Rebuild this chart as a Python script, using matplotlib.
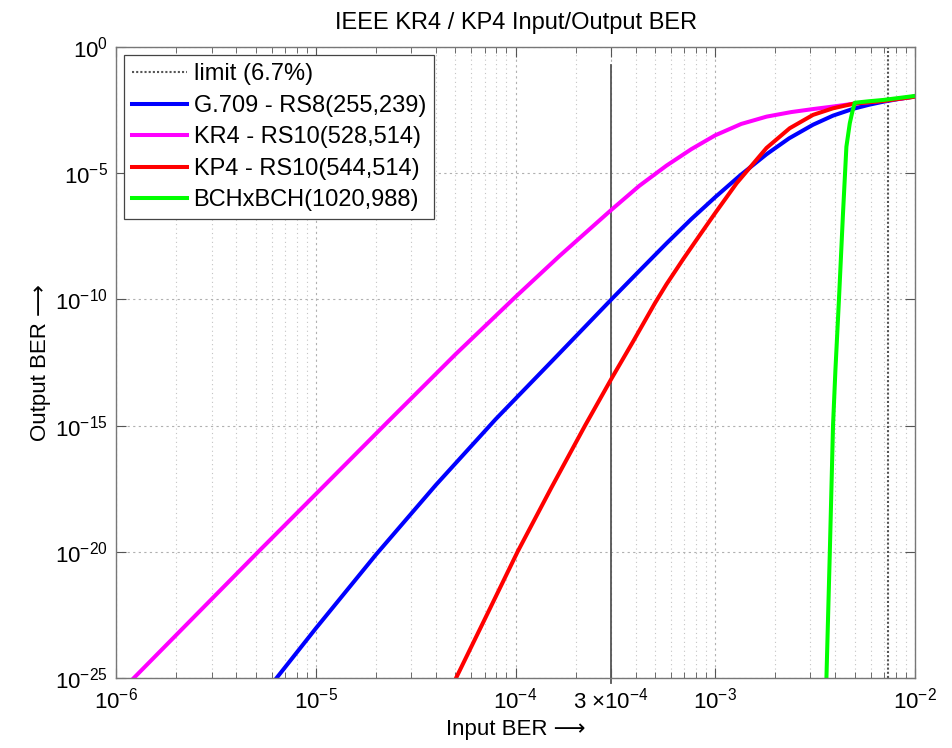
import numpy as np
import matplotlib
matplotlib.use("Agg")
import matplotlib.pyplot as plt
from matplotlib.ticker import FixedLocator, FixedFormatter, NullLocator

plt.rcParams['font.family'] = ['Liberation Sans', 'DejaVu Sans']
plt.rcParams['mathtext.fontset'] = 'custom'
plt.rcParams['mathtext.rm'] = 'Liberation Sans'
plt.rcParams['mathtext.it'] = 'Liberation Sans:italic'

# curve samples, stored as log10(BER)
g709_in = [-5.197, -5.0, -4.7, -4.4, -4.1, -3.8, -3.52, -3.38, -3.244, -3.12, -3.0,
           -2.877, -2.743, -2.63, -2.51, -2.41, -2.309, -2.23, -2.159, -2.08, -2.0]
g709_out = [-25.0, -23.03, -20.12, -17.36, -14.75, -12.3, -10.0, -8.87, -7.78, -6.82, -5.95,
            -5.1, -4.25, -3.62, -3.08, -2.72, -2.45, -2.29, -2.17, -2.06, -1.96]

kr4_in = [-5.912, -5.28, -5.005, -4.64, -4.3, -4.0, -3.78, -3.52, -3.38, -3.244, -3.12,
          -3.0, -2.87, -2.743, -2.62, -2.51, -2.4, -2.309, -2.159, -2.0]
kr4_out = [-25.0, -19.93, -17.75, -14.85, -12.17, -9.9, -8.28, -6.45, -5.5, -4.70, -4.05,
           -3.50, -3.05, -2.76, -2.58, -2.46, -2.35, -2.25, -2.13, -1.97]

kp4_in = [-4.298, -4.15, -3.99, -3.82, -3.652, -3.519, -3.41, -3.302, -3.244, -3.16, -3.077,
          -3.002, -2.893, -2.743, -2.627, -2.51, -2.41, -2.309, -2.159, -2.0]
kp4_out = [-25.0, -22.6, -20.0, -17.45, -15.0, -13.13, -11.65, -10.15, -9.4, -8.4, -7.45,
           -6.6, -5.4, -4.0, -3.22, -2.69, -2.43, -2.25, -2.14, -1.97]

bch_in = [-2.443, -2.426, -2.41, -2.398, -2.38, -2.36, -2.343, -2.326, -2.313, -2.301,
          -2.23, -2.159, -2.08, -2.0]
bch_out = [-25.0, -20.0, -15.0, -12.8, -9.96, -6.59, -3.95, -3.02, -2.56, -2.21,
           -2.15, -2.10, -2.02, -1.94]

limit_ber = 7.3e-3
target_ber = 3e-4

series = [
    ("G.709 - RS8(255,239)", g709_in, g709_out, "#0000ff"),
    ("KR4 - RS10(528,514)", kr4_in, kr4_out, "#ff00ff"),
    ("KP4 - RS10(544,514)", kp4_in, kp4_out, "#ff0000"),
    ("BCHxBCH(1020,988)", bch_in, bch_out, "#00ff00"),
]

fig = plt.figure(figsize=(9.53, 7.48), dpi=100)
ax = fig.add_axes([0.122, 0.0936, 0.838, 0.8436])

ax.set_xscale('log')
ax.set_yscale('log')

ax.plot([limit_ber, limit_ber], [1e-25, 1], color='#555555',
        linestyle=(0, (1, 1)), lw=1.5, label='limit (6.7%)')
ax.plot([target_ber, target_ber], [10**-0.71, 10**-25.2], color='#555555',
        lw=1.3, clip_on=False)

for name, xs, ys, col in series:
    ax.plot(10.0 ** np.array(xs), 10.0 ** np.array(ys), color=col, lw=2.9,
            label=name, solid_joinstyle='round')

ax.set_xlim(1e-6, 1e-2)
ax.set_ylim(1e-25, 1)

xt = [1e-6, 1e-5, 1e-4, target_ber, 1e-3, 1e-2]
xl = [r'$\mathdefault{10^{-6}}$', r'$\mathdefault{10^{-5}}$', r'$\mathdefault{10^{-4}}$',
      r'$\mathdefault{3\ {\times}10^{-4}}$', r'$\mathdefault{10^{-3}}$', r'$\mathdefault{10^{-2}}$']
ax.xaxis.set_major_locator(FixedLocator(xt))
ax.xaxis.set_major_formatter(FixedFormatter(xl))
minors = [m * 10.0 ** e for e in range(-6, -2) for m in range(2, 10)]
ax.xaxis.set_minor_locator(FixedLocator(minors))

yt = [10.0 ** e for e in range(-25, 1, 5)]
ax.yaxis.set_major_locator(FixedLocator(yt))
ax.yaxis.set_major_formatter(FixedFormatter(
    [r'$\mathdefault{10^{%d}}$' % e for e in range(-25, 1, 5)]))
ax.yaxis.set_minor_locator(NullLocator())

ax.tick_params(which='both', direction='in', top=True, right=True, colors='#555555',
               labelcolor='black', labelsize=16)
ax.tick_params(which='major', length=7)
ax.tick_params(axis='x', which='major', pad=7)
ax.tick_params(axis='y', which='major', pad=6)
ax.tick_params(which='minor', length=4)

ax.grid(True, which='major', axis='both', color='#b0b0b0', linestyle=(0, (2, 3)), lw=0.8)
ax.grid(True, which='minor', axis='x', color='#c4c4c4', linestyle=(0, (1, 3)), lw=0.8)

for sp in ax.spines.values():
    sp.set_color('#777777')
    sp.set_linewidth(1.0)

ax.set_title('IEEE KR4 / KP4 Input/Output BER', fontsize=17, pad=13)
ax.set_xlabel('Input BER \u27f6', fontsize=16, labelpad=4)
ax.set_ylabel('Output BER \u27f6', fontsize=16, labelpad=3)

leg = ax.legend(loc='upper left', bbox_to_anchor=(0.0096, 0.987), borderaxespad=0,
                fontsize=17, handlelength=2.3, handletextpad=0.3, labelspacing=0.4,
                borderpad=0.35, fancybox=False, framealpha=1)
leg.get_frame().set_edgecolor('#444444')
leg.get_frame().set_linewidth(0.9)

fig.savefig('out.png', dpi=100)
